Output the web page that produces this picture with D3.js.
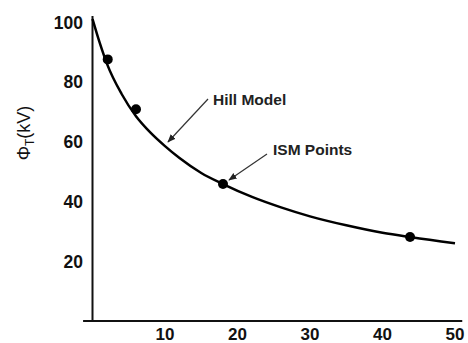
<!DOCTYPE html>
<html>
  <head>
    <style>
      body { margin: 0; background: #fff; }
      text { font-family: Arial, "Liberation Sans", sans-serif; }
    </style>
    <script src="https://d3js.org/d3.v7.min.js"></script>
  </head>
  <body>
    <div id="chart"></div>
    <script type="text/javascript">
      // Hill model curve
      var curveX = [0, 1, 2, 4, 6, 8, 10, 12, 15, 18, 22, 26, 30, 35, 40, 44, 50];
      var curveY = [101, 93, 86, 76, 68.5, 63, 58.5, 54.5, 49.5, 45.8, 41.5, 38, 35, 32, 29.5, 28, 26];
      // ISM points
      var pointX = [2.1, 6.0, 18.0, 43.8];
      var pointY = [87.5, 70.8, 45.8, 28.1];
      var xTicks = [10, 20, 30, 40, 50];
      var yTicks = [20, 40, 60, 80, 100];

      var width = 468, height = 343;

      var x = d3.scaleLinear().domain([0, 50]).range([92.5, 455]);
      var y = d3.scaleLinear().domain([0, 100]).range([321, 22]);

      var svg = d3.select("#chart").append("svg")
        .attr("width", width)
        .attr("height", height);

      // axes lines
      svg.append("line")
        .attr("x1", x(-1.3)).attr("x2", x(51))
        .attr("y1", y(0)).attr("y2", y(0))
        .attr("stroke", "#111").attr("stroke-width", 2);
      svg.append("line")
        .attr("x1", x(0)).attr("x2", x(0))
        .attr("y1", y(0)).attr("y2", y(102))
        .attr("stroke", "#111").attr("stroke-width", 2);

      // tick labels
      svg.selectAll(".xt")
        .data(xTicks)
        .enter()
        .append("text")
        .attr("x", function(d){return x(d);})
        .attr("y", 340)
        .attr("text-anchor", "middle")
        .attr("font-size", 17)
        .attr("font-weight", "bold")
        .attr("fill", "#111")
        .text(function(d){return d;});

      svg.selectAll(".yt")
        .data(yTicks)
        .enter()
        .append("text")
        .attr("x", 83)
        .attr("y", function(d){return y(d) + 6.5;})
        .attr("text-anchor", "end")
        .attr("font-size", 17.5)
        .attr("font-weight", "bold")
        .attr("fill", "#111")
        .text(function(d){return d;});

      // y label
      var yl = svg.append("text")
        .attr("transform", "translate(30,133) rotate(-90)")
        .attr("text-anchor", "middle")
        .attr("font-size", 18)
        .attr("fill", "#111");
      yl.append("tspan").text("\u03A6");
      yl.append("tspan").attr("font-size", 12).attr("dy", 4).text("T");
      yl.append("tspan").attr("dy", -4).text("(kV)");

      // curve
      var line = d3.line()
        .x(function(d){return x(d[0]);})
        .y(function(d){return y(d[1]);})
        .curve(d3.curveMonotoneX);
      svg.append("path")
        .datum(d3.zip(curveX, curveY))
        .attr("d", line)
        .attr("fill", "none")
        .attr("stroke", "#000")
        .attr("stroke-width", 2.5);

      // points
      svg.selectAll(".pt")
        .data(d3.zip(pointX, pointY))
        .enter()
        .append("circle")
        .attr("cx", function(d){return x(d[0]);})
        .attr("cy", function(d){return y(d[1]);})
        .attr("r", 5)
        .attr("fill", "#000");

      // annotations
      svg.append("defs").append("marker")
        .attr("id", "arr")
        .attr("viewBox", "0 0 10 10")
        .attr("refX", 9).attr("refY", 5)
        .attr("markerWidth", 7).attr("markerHeight", 7)
        .attr("orient", "auto")
        .append("path")
        .attr("d", "M0,1 L10,5 L0,9 z")
        .attr("fill", "#222");

      svg.append("line")
        .attr("x1", 208).attr("y1", 99).attr("x2", 168).attr("y2", 142)
        .attr("stroke", "#333").attr("stroke-width", 1.2)
        .attr("marker-end", "url(#arr)");
      svg.append("line")
        .attr("x1", 267).attr("y1", 154).attr("x2", 229).attr("y2", 180)
        .attr("stroke", "#333").attr("stroke-width", 1.2)
        .attr("marker-end", "url(#arr)");

      svg.append("text")
        .attr("x", 213).attr("y", 105)
        .attr("font-size", 15.5).attr("font-weight", "bold").attr("fill", "#222")
        .text("Hill Model");
      svg.append("text")
        .attr("x", 273).attr("y", 155)
        .attr("font-size", 15.5).attr("font-weight", "bold").attr("fill", "#222")
        .text("ISM Points");
    </script>
  </body>
</html>
